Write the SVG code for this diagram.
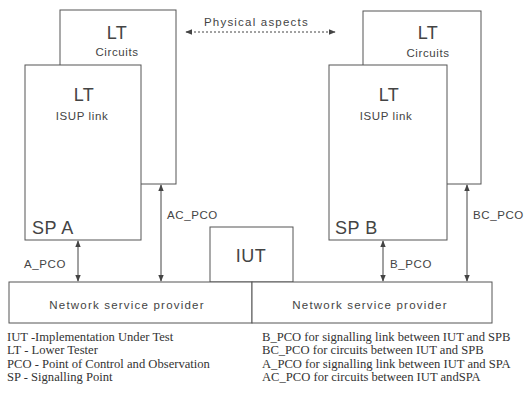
<svg xmlns="http://www.w3.org/2000/svg" width="530" height="408" viewBox="0 0 530 408">
<style>
.box{fill:#fff;stroke:#555;stroke-width:1}
.s{font-family:"Liberation Sans",Arial,sans-serif;fill:#444}
.big{font-size:18px;letter-spacing:0.5px}
.sm{font-size:11.5px;letter-spacing:0.6px}
.leg{font-family:"Liberation Serif","Times New Roman",serif;font-size:12.6px;fill:#333}
.ln{stroke:#444;stroke-width:1;fill:none}
</style>
<defs>
<marker id="ah" viewBox="0 0 10 10" refX="9" refY="5" markerWidth="7" markerHeight="7" orient="auto-start-reverse">
<path d="M0,1 L10,5 L0,9 z" fill="#444"/>
</marker>
</defs>
<rect width="530" height="408" fill="#fff"/>
<g id="lt-circuits-a">
<rect class="box" x="60" y="10" width="116" height="174"/>
<text class="s big" x="117" y="39" text-anchor="middle">LT</text>
<text class="s sm" x="117" y="56" text-anchor="middle">Circuits</text>
</g>
<g id="sp-a">
<rect class="box" x="25" y="65" width="116" height="175"/>
<text class="s big" x="84" y="101" text-anchor="middle">LT</text>
<text class="s sm" x="82" y="120" text-anchor="middle">ISUP link</text>
<text class="s big" x="32" y="234">SP A</text>
</g>
<g id="lt-circuits-b">
<rect class="box" x="363" y="11" width="118" height="173"/>
<text class="s big" x="428" y="39" text-anchor="middle">LT</text>
<text class="s sm" x="428" y="57" text-anchor="middle">Circuits</text>
</g>
<g id="sp-b">
<rect class="box" x="329" y="65" width="118" height="175"/>
<text class="s big" x="389" y="101" text-anchor="middle">LT</text>
<text class="s sm" x="386" y="120" text-anchor="middle">ISUP link</text>
<text class="s big" x="335" y="234">SP B</text>
</g>
<g id="iut">
<rect class="box" x="210" y="227" width="83" height="55"/>
<text class="s big" x="251" y="262" text-anchor="middle">IUT</text>
</g>
<g id="nsp-a">
<rect class="box" x="9" y="282" width="243" height="41"/>
<text class="s sm" x="127" y="309" text-anchor="middle" style="letter-spacing:1.2px">Network service provider</text>
</g>
<g id="nsp-b">
<rect class="box" x="252" y="282" width="240" height="41"/>
<text class="s sm" x="370" y="309" text-anchor="middle" style="letter-spacing:1.2px">Network service provider</text>
</g>
<g id="connectors">
<line class="ln" x1="186" y1="32" x2="335" y2="32" stroke-dasharray="2,2" marker-start="url(#ah)" marker-end="url(#ah)"/>
<line class="ln" x1="78" y1="241" x2="78" y2="281" marker-start="url(#ah)" marker-end="url(#ah)"/>
<line class="ln" x1="161" y1="185" x2="161" y2="281" marker-start="url(#ah)" marker-end="url(#ah)"/>
<line class="ln" x1="383" y1="241" x2="383" y2="281" marker-start="url(#ah)" marker-end="url(#ah)"/>
<line class="ln" x1="467" y1="185" x2="467" y2="281" marker-start="url(#ah)" marker-end="url(#ah)"/>
</g>
<text class="s sm" x="204" y="26" style="letter-spacing:1.2px">Physical aspects</text>
<text class="s sm" x="24" y="268">A_PCO</text>
<text class="s sm" x="167" y="219">AC_PCO</text>
<text class="s sm" x="390" y="268">B_PCO</text>
<text class="s sm" x="473" y="219">BC_PCO</text>
<g id="legend">
<text class="leg" x="7" y="341">IUT -Implementation Under Test</text>
<text class="leg" x="7" y="354">LT - Lower Tester</text>
<text class="leg" x="7" y="368">PCO - Point of Control and Observation</text>
<text class="leg" x="7" y="381">SP - Signalling Point</text>
<text class="leg" x="262" y="341">B_PCO for signalling link between IUT and SPB</text>
<text class="leg" x="262" y="354">BC_PCO for circuits between IUT and SPB</text>
<text class="leg" x="262" y="368">A_PCO for signalling link between IUT and SPA</text>
<text class="leg" x="262" y="381">AC_PCO for circuits between IUT andSPA</text>
</g>
</svg>
